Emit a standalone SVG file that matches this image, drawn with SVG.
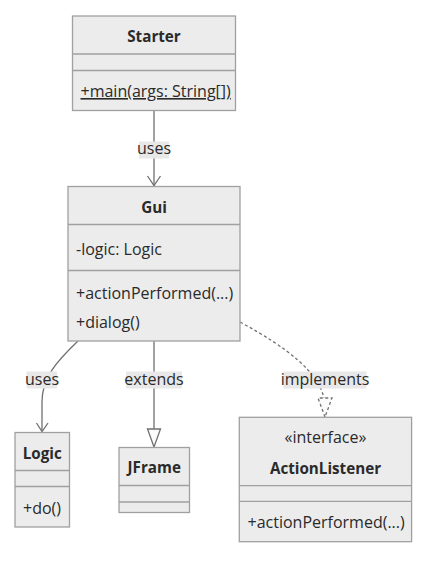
<svg xmlns="http://www.w3.org/2000/svg" width="438" height="562" viewBox="0 0 438 562">
<style>
text{font-family:"Open Sans","Liberation Sans",sans-serif;font-size:16px;fill:#2a2a2a}
.t{font-weight:bold;font-size:15.2px;text-anchor:middle}
.c{text-anchor:middle}
.box{fill:#ececec;stroke:#a0a0a0;stroke-width:1.3}
.div{stroke:#a0a0a0;stroke-width:1.3}
.edge{fill:none;stroke:#707070;stroke-width:1.3}
.dash{stroke-dasharray:3,2.5}
.lbg{fill:#e8e8e8}
</style>
<rect width="438" height="562" fill="#ffffff"/>
<g id="connectors">
  <path class="edge" d="M154,111 L154,186"/>
  <path class="edge" d="M147.5,176 L154,185.5 L160.5,176"/>
  <rect class="lbg" x="139" y="141.5" width="30" height="17"/>
  <text class="c" x="154" y="154">uses</text>

  <path class="edge" d="M78,341 C56,362 42,378 42,402 L42,431"/>
  <path class="edge" d="M36.5,423 L42,431.5 L48,423"/>
  <rect class="lbg" x="26.5" y="371.5" width="30.5" height="17"/>
  <text class="c" x="42" y="385">uses</text>

  <path class="edge" d="M154,341 L154,429"/>
  <polygon class="edge" points="154,447 147.5,429 160.5,429" style="fill:#fbfbfb"/>
  <rect class="lbg" x="126" y="371.5" width="56" height="17"/>
  <text class="c" x="154" y="385">extends</text>

  <path class="edge dash" d="M240,322 C288,348 318,372 324,398"/>
  <polygon class="edge dash" points="325,417 318,398 332,398" style="fill:#fbfbfb"/>
  <rect class="lbg" x="283.5" y="371.5" width="83" height="17"/>
  <text class="c" x="325" y="385">implements</text>
</g>
<g id="Starter">
  <rect class="box" x="72.5" y="16" width="163" height="94.5"/>
  <line class="div" x1="72.5" y1="54" x2="235.5" y2="54"/>
  <line class="div" x1="72.5" y1="70.5" x2="235.5" y2="70.5"/>
  <text class="t" x="154" y="41.5">Starter</text>
  <text x="80.5" y="97" text-decoration="underline">+main(args: String[])</text>
</g>
<g id="Gui">
  <rect class="box" x="68" y="186.5" width="172" height="154.5"/>
  <line class="div" x1="68" y1="224.5" x2="240" y2="224.5"/>
  <line class="div" x1="68" y1="270.5" x2="240" y2="270.5"/>
  <text class="t" x="154" y="212.5">Gui</text>
  <text x="76" y="254.5">-logic: Logic</text>
  <text x="76" y="299">+actionPerformed(...)</text>
  <text x="76" y="328">+dialog()</text>
</g>
<g id="Logic">
  <rect class="box" x="15" y="432.5" width="54.5" height="94.5"/>
  <line class="div" x1="15" y1="470.5" x2="69.5" y2="470.5"/>
  <line class="div" x1="15" y1="486.5" x2="69.5" y2="486.5"/>
  <text class="t" x="42.2" y="459.3">Logic</text>
  <text x="23" y="514">+do()</text>
</g>
<g id="JFrame">
  <rect class="box" x="119" y="447.5" width="70.5" height="65"/>
  <line class="div" x1="119" y1="485.5" x2="189.5" y2="485.5"/>
  <line class="div" x1="119" y1="502" x2="189.5" y2="502"/>
  <text class="t" x="154.2" y="473.3">JFrame</text>
</g>
<g id="ActionListener">
  <rect class="box" x="239.3" y="417.3" width="172.3" height="124.4"/>
  <line class="div" x1="239.3" y1="485.7" x2="411.6" y2="485.7"/>
  <line class="div" x1="239.3" y1="501.3" x2="411.6" y2="501.3"/>
  <text class="c" x="325.5" y="443.3">«interface»</text>
  <text class="t" x="325.5" y="473.5">ActionListener</text>
  <text x="247.5" y="528">+actionPerformed(...)</text>
</g>
</svg>
